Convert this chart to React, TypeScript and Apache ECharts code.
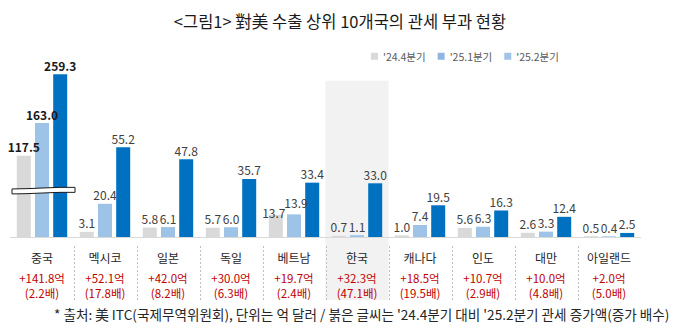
import React, { useEffect, useRef } from "react";
import * as echarts from "echarts";

const categories = ["중국", "멕시코", "일본", "독일", "베트남", "한국", "캐나다", "인도", "대만", "아일랜드"];
const seriesNames = ["'24.4분기", "'25.1분기", "'25.2분기"];
const q4_24 = [117.5, 3.1, 5.8, 5.7, 13.7, 0.7, 1.0, 5.6, 2.6, 0.5];
const q1_25 = [163.0, 20.4, 6.1, 6.0, 13.9, 1.1, 7.4, 6.3, 3.3, 0.4];
const q2_25 = [259.3, 55.2, 47.8, 35.7, 33.4, 33.0, 19.5, 16.3, 12.4, 2.5];
// China's bars are drawn on a broken axis: heights used in the picture
const chinaBrokenAxis = [50, 70, 100];
const increaseAmount = [141.8, 52.1, 42.0, 30.0, 19.7, 32.3, 18.5, 10.7, 10.0, 2.0];
const increaseMultiple = [2.2, 17.8, 8.2, 6.3, 2.4, 47.1, 19.5, 2.9, 4.8, 5.0];
const highlightCategory = "한국";

const FONT = "'Noto Sans CJK KR', 'Noto Sans', sans-serif";
const barColors = ["#d9d9d9", "#9dc3e6", "#0070c0"];
const legendColors = ["#d9d9d9", "#8db6e2", "#9fc4e8"];

export default function App() {
  const ref = useRef<HTMLDivElement>(null);
  useEffect(() => {
    document.body.style.margin = "0";
    const chart = echarts.init(ref.current!, undefined, { renderer: "svg" });
    const real = [q4_24, q1_25, q2_25];
    const hiIndex = categories.indexOf(highlightCategory);

    const barSeries = real.map((vals, s) => ({
      name: seriesNames[s],
      type: "bar",
      z: 2,
      barWidth: 14,
      barGap: "30%",
      itemStyle: { color: barColors[s] },
      data: vals.map((v, i) => {
        if (i === 0) {
          return { value: chinaBrokenAxis[s], label: { fontWeight: "bold", color: "#1a1a1a" } };
        }
        if (s === 0 && i === 4) {
          return { value: v, label: { offset: [-2, 7] } };
        }
        if (s === 1 && i === 4) {
          return { value: v, label: { offset: [2, -3] } };
        }
        return v;
      }),
      label: {
        show: true,
        position: "top",
        distance: 3,
        fontFamily: FONT,
        fontSize: 12,
        color: "#404040",
        formatter: (p: any) => real[s][p.dataIndex].toFixed(1),
      },
    }));

    chart.setOption({
      animation: false,
      textStyle: { fontFamily: FONT },
      title: {
        text: "<그림1> 對美 수출 상위 10개국의 관세 부과 현황",
        left: "center",
        top: 8,
        textStyle: { fontFamily: FONT, fontSize: 16.5, fontWeight: "normal", color: "#1a1a1a" },
      },
      legend: {
        left: 366,
        top: 46,
        itemWidth: 7,
        itemHeight: 7,
        itemGap: 12,
        icon: "rect",
        textStyle: { fontFamily: FONT, fontSize: 10.5, color: "#595959" },
        data: seriesNames.map((n, i) => ({ name: n, itemStyle: { color: legendColors[i] } })),
      },
      grid: { left: 10.5, right: 39.5, top: 58, bottom: 93 },
      xAxis: {
        type: "category",
        data: categories,
        z: 3,
        axisLine: { lineStyle: { color: "#d9d9d9", width: 1 } },
        axisTick: { show: false },
        axisLabel: {
          interval: 0,
          margin: 7,
          formatter: (v: string, i: number) =>
            `{name|${v}}\n{inc|+${increaseAmount[i].toFixed(1)}억}\n{inc|(${increaseMultiple[i].toFixed(1)}배)}`,
          rich: {
            name: { fontFamily: FONT, fontSize: 12, lineHeight: 26, color: "#262626" },
            inc: { fontFamily: FONT, fontSize: 11.5, lineHeight: 15, color: "#c00000" },
          },
        },
      },
      yAxis: { type: "value", min: 0, max: 110, show: false, splitLine: { show: false } },
      series: [
        {
          type: "custom",
          name: "highlight",
          z: 1,
          silent: true,
          data: [[hiIndex, 0]],
          renderItem: (params: any, api: any) => {
            const i = api.value(0);
            const base = api.coord([i, 0]);
            const w = api.size([1, 0])[0];
            const top = api.coord([i, 96])[1];
            return {
              type: "rect",
              shape: { x: base[0] - w / 2, y: top, width: w, height: base[1] + 63 - top },
              style: { fill: "#f2f2f2" },
            };
          },
        },
        {
          type: "custom",
          name: "separators",
          z: 1,
          silent: true,
          data: categories.slice(1).map((_, k) => [k + 1, 0]),
          renderItem: (params: any, api: any) => {
            const i = api.value(0);
            const base = api.coord([i, 0]);
            const w = api.size([1, 0])[0];
            const x = Math.round(base[0] - w / 2) + 0.5;
            return {
              type: "line",
              shape: { x1: x, y1: base[1] + 9, x2: x, y2: base[1] + 63 },
              style: { stroke: "#bfbfbf", lineWidth: 1, lineDash: [2, 2] },
            };
          },
        },
        ...barSeries,
        {
          type: "custom",
          name: "break",
          z: 5,
          silent: true,
          data: [[0, 28.3]],
          renderItem: (params: any, api: any) => {
            const c = api.coord([api.value(0), api.value(1)]);
            const x1 = c[0] - 30;
            const x2 = c[0] + 33;
            const y = c[1];
            const pts = [
              [x1, y - 2],
              [x1 + 15, y - 2.3],
              [x1 + 32, y - 3],
              [x1 + 48, y - 3.6],
              [x2, y - 3.6],
              [x2, y + 1.4],
              [x1 + 48, y + 1.4],
              [x1 + 32, y + 2],
              [x1 + 15, y + 2.7],
              [x1, y + 3],
            ];
            return {
              type: "polygon",
              shape: { points: pts },
              style: { fill: "#ffffff", stroke: "#1a1a1a", lineWidth: 1 },
            };
          },
        },
      ],
      graphic: [
        {
          type: "text",
          left: 54,
          top: 307,
          style: {
            text: "* 출처: 美 ITC(국제무역위원회), 단위는 억 달러 / 붉은 글씨는 '24.4분기 대비 '25.2분기 관세 증가액(증가 배수)",
            fontFamily: FONT,
            fontSize: 13.6,
            fill: "#262626",
          },
        },
      ],
    });
    return () => chart.dispose();
  }, []);
  return <div ref={ref} style={{ width: 680, height: 330, position: "absolute", left: 0, top: 0 }} />;
}
